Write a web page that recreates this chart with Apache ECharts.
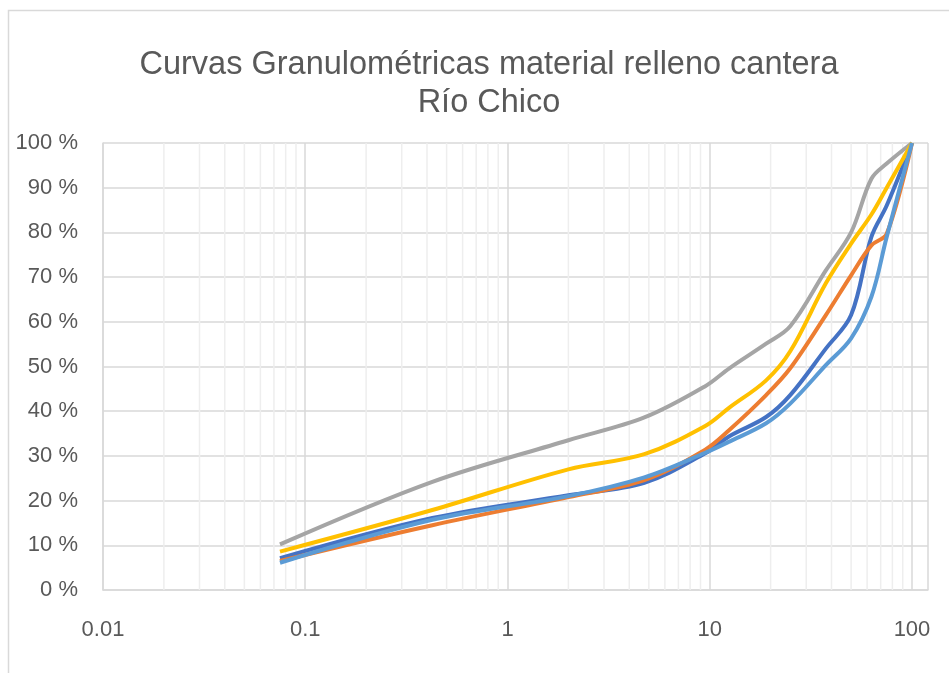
<!DOCTYPE html>
<html>
<head>
<meta charset="utf-8">
<script src="https://cdn.jsdelivr.net/npm/echarts@6/dist/echarts.min.js"></script>
<style>
  html, body { margin: 0; padding: 0; background: #fff; }
  #chart { width: 949px; height: 673px; }
</style>
</head>
<body>
<div id="chart"></div>
<script>
// tamiz (mm)
var sieveSizes = [0.075, 0.425, 2, 4.75, 9.5, 12.5, 19, 25, 37.5, 50, 63, 75, 100];

// % que pasa
var curveBlue = [7.1, 16.1, 21.2, 24.0, 30.6, 34.4, 38.7, 43.6, 54.0, 61.5, 79.0, 86.0, 100];
var curveOrange = [6.5, 14.5, 20.8, 24.6, 31.4, 35.8, 43.6, 49.6, 61.5, 70.4, 77.1, 79.7, 100];
var curveGray = [10.2, 24.2, 33.5, 38.6, 45.6, 49.6, 55.1, 59.0, 71.5, 80.0, 92.0, 95.4, 100];
var curveYellow = [8.6, 17.9, 27.0, 30.4, 36.7, 40.8, 46.9, 53.4, 68.6, 77.5, 84.0, 90.0, 100];
var curveLightBlue = [6.1, 15.7, 21.0, 25.2, 30.7, 33.2, 37.3, 41.7, 50.3, 56.3, 65.6, 79.0, 100];

// lineas secundarias de la escala log (2..9 de cada decada)
var decades = [0.01, 0.1, 1, 10];
var minorTicks = [];
decades.forEach(function (d) {
  for (var k = 2; k <= 9; k++) minorTicks.push(+(d * k).toPrecision(6));
});

var chart = echarts.init(document.getElementById('chart'));

function pairs(ys) {
  return sieveSizes.map(function (x, i) { return [x, ys[i]]; });
}

function curve(name, color, ys) {
  return {
    name: name,
    type: 'line',
    data: pairs(ys),
    smooth: 0.35,
    showSymbol: false,
    z: 3,
    lineStyle: { color: color, width: 4 },
    itemStyle: { color: color }
  };
}

var font = 'Liberation Sans';

var option = {
  animation: false,
  graphic: [{
    type: 'rect',
    z: -10,
    shape: { x: 8.5, y: 10.5, width: 1000, height: 1000 },
    style: { fill: 'none', stroke: '#d9d9d9', lineWidth: 1.5 }
  }],
  title: {
    text: 'Curvas Granulométricas material relleno cantera\nRío Chico',
    left: 484,
    top: 41,
    textAlign: 'center',
    textStyle: {
      fontFamily: font,
      fontSize: 32.5,
      fontWeight: 'normal',
      color: '#595959',
      lineHeight: 38
    }
  },
  grid: {
    left: 103,
    right: 21,
    top: 143,
    bottom: 83
  },
  xAxis: {
    type: 'log',
    logBase: 10,
    min: 0.01,
    max: 120,
    axisLine: { show: true, lineStyle: { color: '#d9d9d9', width: 1.5 } },
    axisTick: { show: false },
    splitLine: { show: true, lineStyle: { color: '#d9d9d9', width: 1.5 } },
    axisLabel: {
      margin: 29,
      fontFamily: font,
      fontSize: 22,
      color: '#595959',
      formatter: function (v) {
        var l = Math.log10(v);
        if (Math.abs(l - Math.round(l)) > 1e-6) return '';
        return String(+v.toPrecision(6));
      }
    }
  },
  yAxis: {
    type: 'value',
    min: 0,
    max: 100,
    interval: 10,
    axisLine: { show: true, lineStyle: { color: '#d9d9d9', width: 1.5 } },
    axisTick: { show: false },
    splitLine: { lineStyle: { color: '#d9d9d9', width: 1.5 } },
    axisLabel: {
      margin: 25,
      fontFamily: font,
      fontSize: 22,
      color: '#595959',
      formatter: '{value} %'
    }
  },
  series: [
    {
      type: 'custom',
      silent: true,
      z: 1,
      data: minorTicks,
      encode: { x: 0 },
      renderItem: function (params, api) {
        var v = api.value(0);
        var p0 = api.coord([v, 0]);
        var p1 = api.coord([v, 100]);
        return {
          type: 'line',
          shape: { x1: p0[0], y1: p0[1], x2: p1[0], y2: p1[1] },
          style: { stroke: '#eeeeee', lineWidth: 1.5 }
        };
      }
    },
    curve('Muestra 1', '#4472C4', curveBlue),
    curve('Muestra 2', '#ED7D31', curveOrange),
    curve('Muestra 3', '#A5A5A5', curveGray),
    curve('Muestra 4', '#FFC000', curveYellow),
    curve('Muestra 5', '#5B9BD5', curveLightBlue)
  ]
};

chart.setOption(option);
</script>
</body>
</html>
